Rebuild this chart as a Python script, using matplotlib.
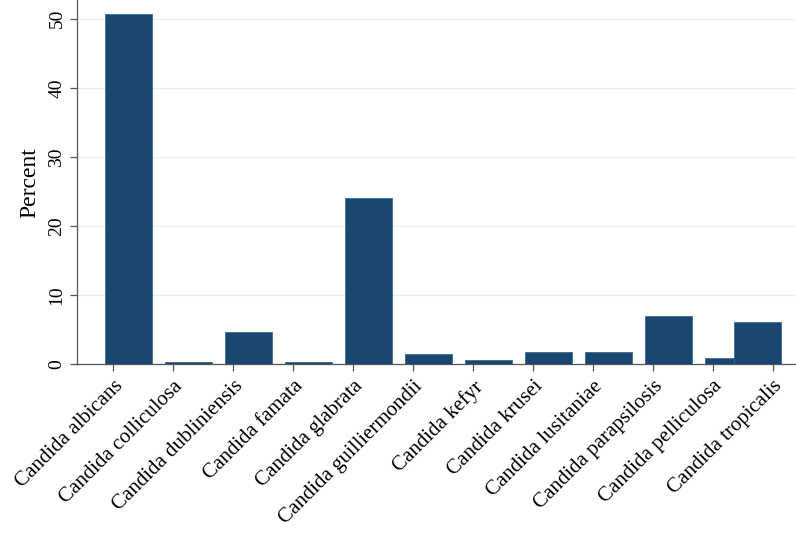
import numpy as np
import matplotlib
matplotlib.use("Agg")
import matplotlib.pyplot as plt

# Species share of isolates (percent)
species = [
    "Candida albicans", "Candida colliculosa", "Candida dubliniensis",
    "Candida famata", "Candida glabrata", "Candida guilliermondii",
    "Candida kefyr", "Candida krusei", "Candida lusitaniae",
    "Candida parapsilosis", "Candida pelliculosa", "Candida tropicalis",
]
percent = [50.7, 0.29, 4.64, 0.29, 24.0, 1.45, 0.58, 1.74, 1.74, 6.96, 0.87, 6.09]
yticks = [0, 10, 20, 30, 40, 50]

BAR = "#1a476f"
GRID = "#e4eef0"
AXC = "#555555"

plt.rcParams["font.family"] = "serif"
plt.rcParams["font.serif"] = ["Liberation Serif", "DejaVu Serif"]

fig = plt.figure(figsize=(7.96, 5.36), dpi=100)
ax = fig.add_axes([0.097, 0.32, 0.902, 0.68])

ticks = np.arange(len(species), dtype=float)
# bars sit slightly right of their ticks; the last one overlaps the previous
lefts = ticks - 0.133
lefts[-1] = ticks[-1] - 0.65
ax.bar(lefts, percent, width=0.783, align="edge", color=BAR,
       edgecolor="#3a6a92", linewidth=0.6, zorder=3)

ax.set_xlim(-0.6, 11.37)
ax.set_ylim(0, 52.7)
ax.set_yticks(yticks)
ax.set_yticklabels([str(v) for v in yticks], rotation=90, va="center", fontsize=14)
ax.set_xticks(ticks)
ax.set_xticklabels(species, rotation=45, ha="right", rotation_mode="anchor",
                   fontsize=15)
ax.tick_params(axis="both", colors=AXC, length=5, width=0.9, labelcolor="black")
ax.tick_params(axis="x", pad=4)

ax.grid(axis="y", color=GRID, linewidth=0.9, zorder=0)
ax.set_ylabel("Percent", fontsize=17, labelpad=6)

for s in ["top", "right"]:
    ax.spines[s].set_visible(False)
for s in ["left", "bottom"]:
    ax.spines[s].set_color(AXC)
    ax.spines[s].set_linewidth(0.9)

fig.savefig("out.png", dpi=100)
